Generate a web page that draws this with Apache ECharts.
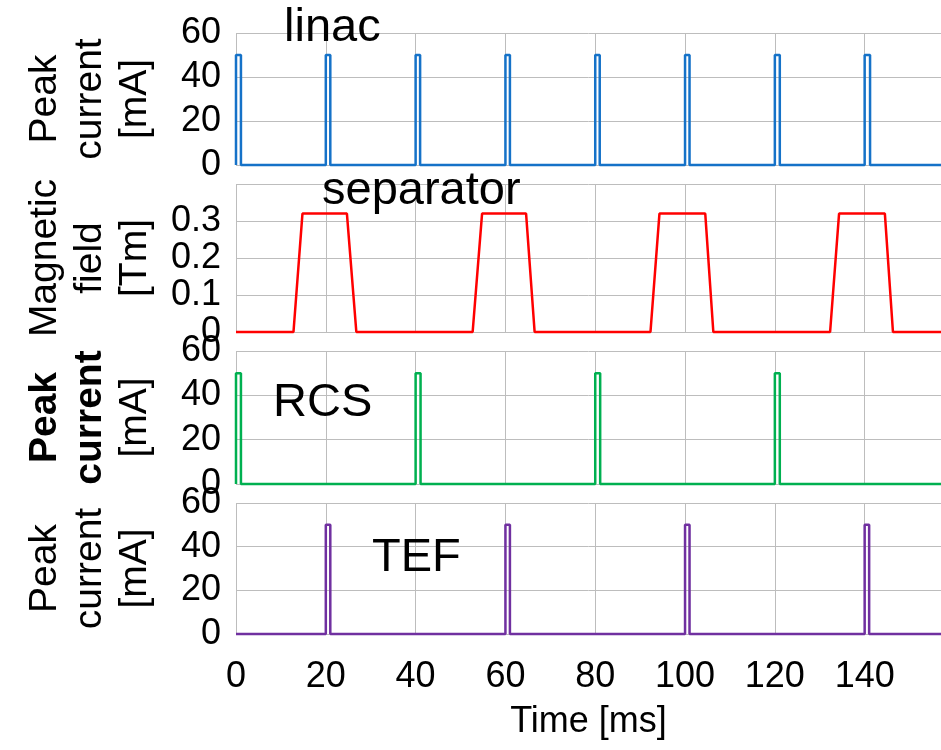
<!DOCTYPE html>
<html>
<head>
<meta charset="utf-8">
<script src="https://cdn.jsdelivr.net/npm/echarts@6/dist/echarts.min.js"></script>
<style>
html,body{margin:0;padding:0;background:#fff;}
#chart{width:941px;height:750px;}
</style>
</head>
<body>
<div id="chart"></div>
<script>
/* four stacked timing panels sharing one time axis (ms) */
var TIME_MAX = 157;
var PANEL_TITLES = ["linac", "separator", "RCS", "TEF"];
var Y_NAMES = ["Peak\ncurrent\n[mA]", "Magnetic\nfield\n[Tm]", "{b|Peak}\n{b|current}\n[mA]", "Peak\ncurrent\n[mA]"];
var Y_MAX = [60, 0.4, 60, 60];
var Y_STEP = [20, 0.1, 20, 20];
var COLORS = ["#1572c8", "#ff0000", "#00b050", "#7030a0"];

/* [time ms, value] */
var linacPts = [
  [0,0],[0,50],[1.1,50],[1.1,0],
  [20,0],[20,50],[21,50],[21,0],
  [40,0],[40,50],[41,50],[41,0],
  [60,0],[60,50],[61,50],[61,0],
  [80,0],[80,50],[81,50],[81,0],
  [100,0],[100,50],[101,50],[101,0],
  [120,0],[120,50],[121.1,50],[121.1,0],
  [140,0],[140,50],[141.2,50],[141.2,0],
  [157,0]
];
var separatorPts = [
  [0,0],[12.8,0],[14.8,0.32],[24.7,0.32],[26.8,0],
  [52.7,0],[54.8,0.32],[64.6,0.32],[66.5,0],
  [92.3,0],[94.3,0.32],[104.5,0.32],[106.3,0],
  [132.3,0],[134.3,0.32],[144.5,0.32],[146.3,0],
  [157,0]
];
var rcsPts = [
  [0,0],[0,50],[1.1,50],[1.1,0],
  [40,0],[40,50],[41.1,50],[41.1,0],
  [80,0],[80,50],[81.1,50],[81.1,0],
  [120,0],[120,50],[121.1,50],[121.1,0],
  [157,0]
];
var tefPts = [
  [0,0],
  [20,0],[20,50],[21,50],[21,0],
  [60,0],[60,50],[61,50],[61,0],
  [100,0],[100,50],[101,50],[101,0],
  [140,0],[140,50],[141,50],[141,0],
  [157,0]
];
var SERIES_DATA = [linacPts, separatorPts, rcsPts, tefPts];

var FONT = "'Liberation Sans', Arial, sans-serif";
var GRID_LINE = {lineStyle:{color:"#bdbdbd", width:1}};
var GRIDS = [
  {left:236, right:0, top:33, height:132},
  {left:236, right:0, top:184, height:148},
  {left:236, right:0, top:351, height:133},
  {left:236, right:0, top:503, height:131}
];
var TITLE_POS = [
  {left:284, top:5},
  {left:322, top:168},
  {left:273, top:380},
  {left:372, top:535}
];

var chart = echarts.init(document.getElementById("chart"), null, {renderer:"canvas"});

var xAxes = GRIDS.map(function(g, i){
  var last = i === GRIDS.length - 1;
  return {
    type:"value", gridIndex:i, min:0, max:TIME_MAX, interval:20,
    axisLine:{show:false}, axisTick:{show:false},
    splitLine:{show:true, showMaxLine:false, lineStyle:GRID_LINE.lineStyle},
    axisLabel:{show:last, showMaxLabel:false, color:"#000", fontSize:36, fontFamily:FONT, margin:25},
    name:last ? "Time [ms]" : "", nameLocation:"middle", nameGap:70,
    nameTextStyle:{color:"#000", fontSize:36, fontFamily:FONT}
  };
});

var yAxes = GRIDS.map(function(g, i){
  return {
    type:"value", gridIndex:i, min:0, max:Y_MAX[i], interval:Y_STEP[i],
    axisLine:{show:false}, axisTick:{show:false},
    splitLine:{show:true, lineStyle:GRID_LINE.lineStyle},
    axisLabel:{color:"#000", fontSize:36, fontFamily:FONT, margin:15, padding:[6,0,0,0],
      showMaxLabel:i !== 1},
    name:Y_NAMES[i], nameLocation:"middle", nameRotate:90, nameGap:78,
    nameTextStyle:{color:"#000", fontSize:39, lineHeight:45, fontFamily:FONT, align:"center",
      rich:{b:{fontWeight:"bold", fontSize:39, lineHeight:45, fontFamily:FONT}}}
  };
});

var titles = PANEL_TITLES.map(function(t, i){
  return {text:t, left:TITLE_POS[i].left, top:TITLE_POS[i].top, padding:0,
    textStyle:{color:"#000", fontSize:47, fontWeight:"normal", fontFamily:FONT}};
});

var series = SERIES_DATA.map(function(d, i){
  return {
    type:"line", xAxisIndex:i, yAxisIndex:i, data:d,
    showSymbol:false, symbol:"none", clip:false,
    lineStyle:{color:COLORS[i], width:2.5},
    emphasis:{disabled:true}, z:5
  };
});

chart.setOption({
  animation:false,
  backgroundColor:"#fff",
  title:titles,
  grid:GRIDS,
  xAxis:xAxes,
  yAxis:yAxes,
  series:series
});
</script>
</body>
</html>
